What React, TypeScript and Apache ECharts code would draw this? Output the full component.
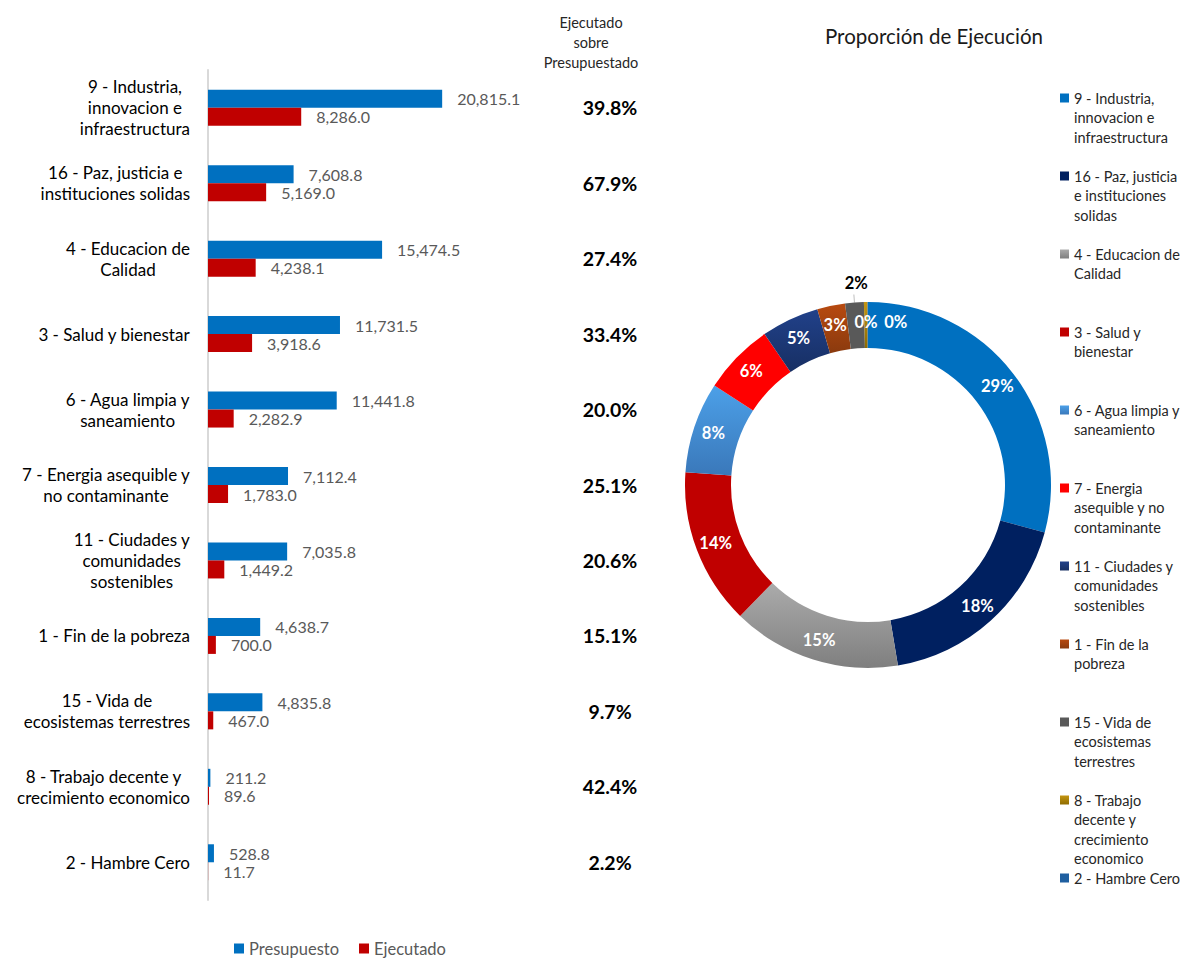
import React, { useEffect, useRef } from "react";
import * as echarts from "echarts";

const categories = [
  "9 - Industria, innovacion e infraestructura",
  "16 - Paz, justicia e instituciones solidas",
  "4 - Educacion de Calidad",
  "3 - Salud y bienestar",
  "6 - Agua limpia y saneamiento",
  "7 - Energia asequible y no contaminante",
  "11 - Ciudades y comunidades sostenibles",
  "1 - Fin de la pobreza",
  "15 - Vida de ecosistemas terrestres",
  "8 - Trabajo decente y crecimiento economico",
  "2 - Hambre Cero",
];

const axisLabelLines = [
  ["9 - Industria,", "innovacion e", "infraestructura"],
  ["16 - Paz, justicia e", "instituciones solidas"],
  ["4 - Educacion de", "Calidad"],
  ["3 - Salud y bienestar"],
  ["6 - Agua limpia y", "saneamiento"],
  ["7 - Energia asequible y", "no contaminante"],
  ["11 - Ciudades y", "comunidades", "sostenibles"],
  ["1 - Fin de la pobreza"],
  ["15 - Vida de", "ecosistemas terrestres"],
  ["8 - Trabajo decente y", "crecimiento economico"],
  ["2 - Hambre Cero"],
];

const legendLabelLines = [
  ["9 - Industria,", "innovacion e", "infraestructura"],
  ["16 - Paz, justicia", "e instituciones", "solidas"],
  ["4 - Educacion de", "Calidad"],
  ["3 - Salud y", "bienestar"],
  ["6 - Agua limpia y", "saneamiento"],
  ["7 - Energia", "asequible y no", "contaminante"],
  ["11 - Ciudades y", "comunidades", "sostenibles"],
  ["1 - Fin de la", "pobreza"],
  ["15 - Vida de", "ecosistemas", "terrestres"],
  ["8 - Trabajo", "decente y", "crecimiento", "economico"],
  ["2 - Hambre Cero"],
];

const presupuesto = [20815.1, 7608.8, 15474.5, 11731.5, 11441.8, 7112.4, 7035.8, 4638.7, 4835.8, 211.2, 528.8];
const ejecutado = [8286.0, 5169.0, 4238.1, 3918.6, 2282.9, 1783.0, 1449.2, 700.0, 467.0, 89.6, 11.7];

const grad = (a: string, b: string) => ({
  type: "linear",
  x: 0,
  y: 0,
  x2: 0,
  y2: 1,
  colorStops: [
    { offset: 0, color: a },
    { offset: 1, color: b },
  ],
});

const pieColors: any[] = [
  "#0070C0",
  "#002060",
  grad("#ABABAB", "#7F7F7F"),
  "#C00000",
  grad("#4CA0E8", "#3A78BA"),
  "#FF0000",
  grad("#21418A", "#172F63"),
  grad("#B84A10", "#8A3A0E"),
  "#595959",
  grad("#C49512", "#8F6C00"),
  "#1F5FA0",
];

const FONT = "Lato";

const fmt = (v: number) =>
  v.toLocaleString("en-US", { minimumFractionDigits: 1, maximumFractionDigits: 1 });

export default function App() {
  const ref = useRef<HTMLDivElement>(null);

  useEffect(() => {
    if (!ref.current) return;
    const chart = echarts.init(ref.current, undefined, { renderer: "svg" });

    const percentLabels = categories.map(
      (_, i) => ((ejecutado[i] / presupuesto[i]) * 100).toFixed(1) + "%"
    );

    const lh = 19.5;
    const H = 137;
    const pieLegendData = categories.map((name, i) => {
      const n = legendLabelLines[i].length;
      const pad = (H - (2 * n - 1) * lh) / 2;
      return {
        name,
        textStyle: {
          padding: [pad, 0, pad, 0],
          backgroundColor: "rgba(0,0,0,0)",
        },
      };
    });

    const pieData = categories.map((name, i) => {
      const item: any = {
        name,
        value: ejecutado[i],
        itemStyle: { color: pieColors[i] },
      };
      if (i === 8) {
        item.label = {
          position: "outside",
          color: "#000",
          fontWeight: "bold",
        };
        item.labelLine = {
          show: true,
          length: 8,
          length2: 0,
          lineStyle: { color: "#BFBFBF", width: 1 },
        };
      }
      return item;
    });

    const barLabel = {
      show: true,
      position: "right",
      distance: 15,
      formatter: (p: any) => fmt(p.value),
      color: "#595959",
      fontSize: 16,
      lineHeight: 16,
      fontFamily: FONT,
    };

    const option: any = {
      animation: false,
      textStyle: { fontFamily: FONT },
      graphic: [
        {
          type: "text",
          x: 591,
          y: 12,
          style: {
            text: "Ejecutado\nsobre\nPresupuestado",
            align: "center",
            verticalAlign: "top",
            fontSize: 14.5,
            lineHeight: 20,
            fontFamily: FONT,
            fill: "#262626",
          },
        },
        {
          type: "text",
          x: 934,
          y: 36,
          style: {
            text: "Proporción de Ejecución",
            align: "center",
            verticalAlign: "middle",
            fontSize: 20.5,
            fontFamily: FONT,
            fill: "#1a1a1a",
          },
        },
      ],
      legend: [
        {
          data: ["Presupuesto", "Ejecutado"],
          left: 234,
          top: 940,
          padding: 0,
          itemWidth: 10,
          itemHeight: 10,
          itemGap: 20,
          icon: "rect",
          selectedMode: false,
          textStyle: { fontSize: 16.5, lineHeight: 16, color: "#595959", fontFamily: FONT },
        },
        {
          data: pieLegendData,
          orient: "vertical",
          left: 1060,
          top: 98 - H / 2,
          padding: 0,
          itemWidth: 9,
          itemHeight: 9,
          itemGap: 78 - H,
          icon: "rect",
          selectedMode: false,
          formatter: (name: string) => {
            const lines = legendLabelLines[categories.indexOf(name)];
            return new Array(lines.length - 1).fill("").concat(lines).join("\n");
          },
          textStyle: { fontSize: 14.5, lineHeight: lh, color: "#262626", fontFamily: FONT },
        },
      ],
      grid: [
        { left: 208, top: 70, width: 450, height: 830 },
        { left: 610, top: 70, width: 1, height: 830 },
      ],
      xAxis: [
        { type: "value", gridIndex: 0, min: 0, max: 40000, show: false },
        { type: "value", gridIndex: 1, min: 0, max: 1, show: false },
      ],
      yAxis: [
        {
          type: "category",
          gridIndex: 0,
          data: categories,
          inverse: true,
          axisLine: { show: true, lineStyle: { color: "#D9D9D9", width: 2 } },
          axisTick: { show: false },
          axisLabel: {
            margin: 18,
            interval: 0,
            formatter: (_v: string, i: number) =>
              axisLabelLines[i].map((l) => `{c|${l}}`).join("\n"),
            rich: {
              c: { align: "center", fontSize: 17, lineHeight: 21, color: "#000", fontFamily: FONT },
            },
          },
        },
        {
          type: "category",
          gridIndex: 1,
          data: percentLabels,
          inverse: true,
          axisLine: { show: false },
          axisTick: { show: false },
          axisLabel: {
            margin: 0,
            interval: 0,
            align: "center",
            fontSize: 19.5,
            fontWeight: "bold",
            color: "#000",
            fontFamily: FONT,
          },
        },
      ],
      series: [
        {
          name: "Presupuesto",
          type: "bar",
          xAxisIndex: 0,
          yAxisIndex: 0,
          data: presupuesto,
          barWidth: 18,
          barGap: "0%",
          itemStyle: { color: "#0070C0" },
          label: barLabel,
        },
        {
          name: "Ejecutado",
          type: "bar",
          xAxisIndex: 0,
          yAxisIndex: 0,
          data: ejecutado,
          barWidth: 18,
          barGap: "0%",
          itemStyle: { color: "#C00000" },
          label: barLabel,
        },
        {
          name: "Proporción de Ejecución",
          type: "pie",
          center: [868, 485],
          radius: [137, 183],
          startAngle: 90,
          clockwise: true,
          percentPrecision: 0,
          avoidLabelOverlap: false,
          data: pieData,
          label: {
            show: true,
            position: "inside",
            formatter: (p: any) => p.percent + "%",
            color: "#fff",
            fontWeight: "bold",
            fontSize: 16.5,
            fontFamily: FONT,
          },
          labelLine: { show: false },
          labelLayout: (p: any) =>
            p.dataIndex === 10 ? { dx: 28 } : p.dataIndex === 8 ? { dx: 19, dy: -12 } : {},
        },
      ],
    };

    chart.setOption(option);
    return () => chart.dispose();
  }, []);

  return (
    <div
      ref={ref}
      style={{ position: "fixed", left: 0, top: 0, width: 1181, height: 958, background: "#fff" }}
    />
  );
}
